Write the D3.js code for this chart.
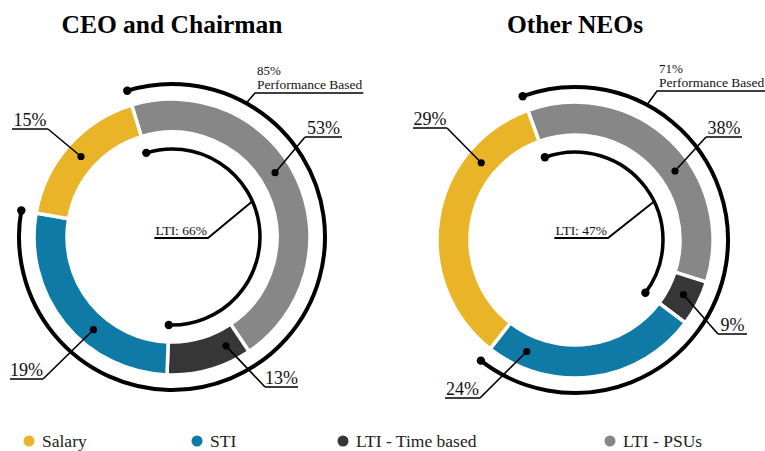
<!DOCTYPE html>
<html>
<head>
<meta charset="utf-8">
<script src="https://cdn.jsdelivr.net/npm/d3@7"></script>
<style>
  body { margin: 0; background: #fff; }
  svg text { font-family: "Liberation Serif", "Times New Roman", serif; }
</style>
</head>
<body>
<script>
(function(){

    /////////// DATA //////////
    const categories = ["Salary", "STI", "LTI - Time based", "LTI - PSUs"];
    const colors = ["#E9B428", "#0E7AA5", "#363636", "#878787"];
    const titles = ["CEO and Chairman", "Other NEOs"];

    // printed percentages (Salary, STI, LTI - Time based, LTI - PSUs)
    const ceoLabels = [15, 19, 13, 53];
    const neoLabels = [29, 24, 9, 38];
    // slice sizes as they are drawn in the picture (not equal to the printed numbers)
    const ceoShares = [17.5, 27.2, 10, 45.3];
    const neoShares = [33.9, 25.3, 5.3, 35.5];

    const perfLabels = [85, 71]; // "Performance Based"
    const ltiLabels = [66, 47];  // "LTI"

    /////////// LAYOUT //////////
    const width = 765, height = 451;
    const rIn = 105, rOut = 138;  // ring
    const rPerf = 153;            // outer bracket arc
    const rLti = 88;              // inner bracket arc
    const deg = Math.PI / 180;

    const charts = [
        {
            cx: 172, cy: 237, start: -17, labels: ceoLabels, shares: ceoShares,
            perf: perfLabels[0], lti: ltiLabels[0],
            // underline position (dx0, dx1, dy) relative to center, which end the leader starts from, and where in the slice the dot sits
            leaders: [
                {x0: -160, x1: -124, y: -108, end: 1, frac: 0.5},
                {x0: -162, x1: -129, y: 142, end: 1, frac: 0.39},
                {x0: 93, x1: 126, y: 150, end: 0, frac: 0.21},
                {x0: 133, x1: 170, y: -100, end: 0, frac: 0.46}
            ],
            perfBox: {x0: 83, y: -144, ang: 29},
            ltiBox: {x1: 36, y: 1, ang: 66}
        },
        {
            cx: 575, cy: 240, start: -20, labels: neoLabels, shares: neoShares,
            perf: perfLabels[1], lti: ltiLabels[1],
            leaders: [
                {x0: -162, x1: -128, y: -112, end: 1, frac: 0.75},
                {x0: -130, x1: -95, y: 158, end: 1, frac: 0.84},
                {x0: 143, x1: 172, y: 94, end: 0, frac: 0.47},
                {x0: 131, x1: 167, y: -103, end: 0, frac: 0.59}
            ],
            perfBox: {x0: 82, y: -149, ang: 28},
            ltiBox: {x1: 33, y: -2, ang: 64}
        }
    ];

    const svg = d3.select("body").append("svg")
        .attr("width", width)
        .attr("height", height);

    function polar(r, a) { // a in radians, clockwise from top
        return [r * Math.sin(a), -r * Math.cos(a)];
    }

    // drawing order clockwise from the top: PSUs, Time based, STI, Salary
    const drawOrder = [3, 2, 1, 0];

    charts.forEach((c, ci) => {
        const g = svg.append("g").attr("transform", `translate(${c.cx},${c.cy})`);

        // title
        svg.append("text")
            .attr("x", c.cx)
            .attr("y", 33)
            .attr("text-anchor", "middle")
            .style("font-size", "25.5px")
            .style("font-weight", "bold")
            .style("fill", "#000")
            .text(titles[ci]);

        const a0 = c.start * deg;
        const pie = d3.pie()
            .sort(null)
            .value(i => c.shares[i])
            .startAngle(a0)
            .endAngle(a0 + 2 * Math.PI);
        const slices = pie(drawOrder);
        const byCat = {};
        slices.forEach(s => { byCat[s.data] = s; });

        const arc = d3.arc().innerRadius(rIn).outerRadius(rOut);

        g.selectAll(".slice")
            .data(slices)
            .enter()
            .append("path")
            .attr("class", "slice")
            .attr("d", arc)
            .style("fill", d => colors[d.data])
            .style("stroke", "#fff")
            .style("stroke-width", 3.5);

        // bracket arcs
        const perfStart = byCat[3].startAngle, perfEnd = byCat[1].endAngle;
        const ltiStart = byCat[3].startAngle, ltiEnd = byCat[2].endAngle;
        const bracket = [
            {r: rPerf, s: perfStart, e: perfEnd, w: 4},
            {r: rLti, s: ltiStart, e: ltiEnd, w: 3.5}
        ];
        bracket.forEach(b => {
            g.append("path")
                .attr("d", d3.arc()({innerRadius: b.r, outerRadius: b.r, startAngle: b.s, endAngle: b.e}))
                .style("fill", "none")
                .style("stroke", "#000")
                .style("stroke-width", b.w);
            [b.s, b.e].forEach(a => {
                const p = polar(b.r, a);
                g.append("circle").attr("cx", p[0]).attr("cy", p[1]).attr("r", 4.2).style("fill", "#000");
            });
        });

        // slice labels with leaders
        const rMid = (rIn + rOut) / 2;
        c.leaders.forEach((L, i) => {
            const s = byCat[i];
            const a = s.startAngle + (s.endAngle - s.startAngle) * L.frac;
            const p = polar(rMid, a);
            const ex = L.end ? L.x1 : L.x0;
            g.append("path")
                .attr("d", `M${L.x0},${L.y}H${L.x1}M${ex},${L.y}L${p[0]},${p[1]}`)
                .style("fill", "none")
                .style("stroke", "#000")
                .style("stroke-width", 1.6);
            g.append("circle").attr("cx", p[0]).attr("cy", p[1]).attr("r", 3.6).style("fill", "#000");
            g.append("text")
                .attr("x", (L.x0 + L.x1) / 2)
                .attr("y", L.y - 3)
                .attr("text-anchor", "middle")
                .style("font-size", "18px")
                .style("fill", "#111")
                .text(c.labels[i] + "%");
        });

        // "Performance Based" label
        const pb = c.perfBox;
        const pbText = g.append("g");
        pbText.append("text")
            .attr("x", pb.x0 + 2).attr("y", pb.y - 18)
            .style("font-size", "13px").style("fill", "#111")
            .text(c.perf + "%");
        const pbLine2 = pbText.append("text")
            .attr("x", pb.x0 + 2).attr("y", pb.y - 4)
            .style("font-size", "13.5px").style("fill", "#111")
            .text("Performance Based");
        const pbW = pbLine2.node().getComputedTextLength();
        const pp = polar(rPerf, pb.ang * deg);
        g.append("path")
            .attr("d", `M${pb.x0 + pbW + 3},${pb.y}H${pb.x0}L${pp[0]},${pp[1]}`)
            .style("fill", "none").style("stroke", "#000").style("stroke-width", 1.6);

        // "LTI" label
        const lb = c.ltiBox;
        const lt = g.append("text")
            .attr("x", lb.x1 - 1).attr("y", lb.y - 3)
            .attr("text-anchor", "end")
            .style("font-size", "13.5px").style("fill", "#111")
            .text("LTI: " + c.lti + "%");
        const lw = lt.node().getComputedTextLength();
        const lp = polar(rLti, lb.ang * deg);
        g.append("path")
            .attr("d", `M${lb.x1 - lw - 2},${lb.y}H${lb.x1}L${lp[0]},${lp[1]}`)
            .style("fill", "none").style("stroke", "#000").style("stroke-width", 2);
    });

    /////////// LEGEND //////////
    const legendX = [29, 197, 343, 610];
    const legend = svg.selectAll(".legend")
        .data(categories)
        .enter()
        .append("g")
        .attr("class", "legend")
        .attr("transform", (d, i) => `translate(${legendX[i]},441)`);
    legend.append("circle")
        .attr("r", 5.5)
        .style("fill", (d, i) => colors[i]);
    legend.append("text")
        .attr("x", 13)
        .attr("y", 5.5)
        .style("font-size", "17.5px")
        .style("fill", "#222")
        .text(d => d);

})();
</script>
</body>
</html>
